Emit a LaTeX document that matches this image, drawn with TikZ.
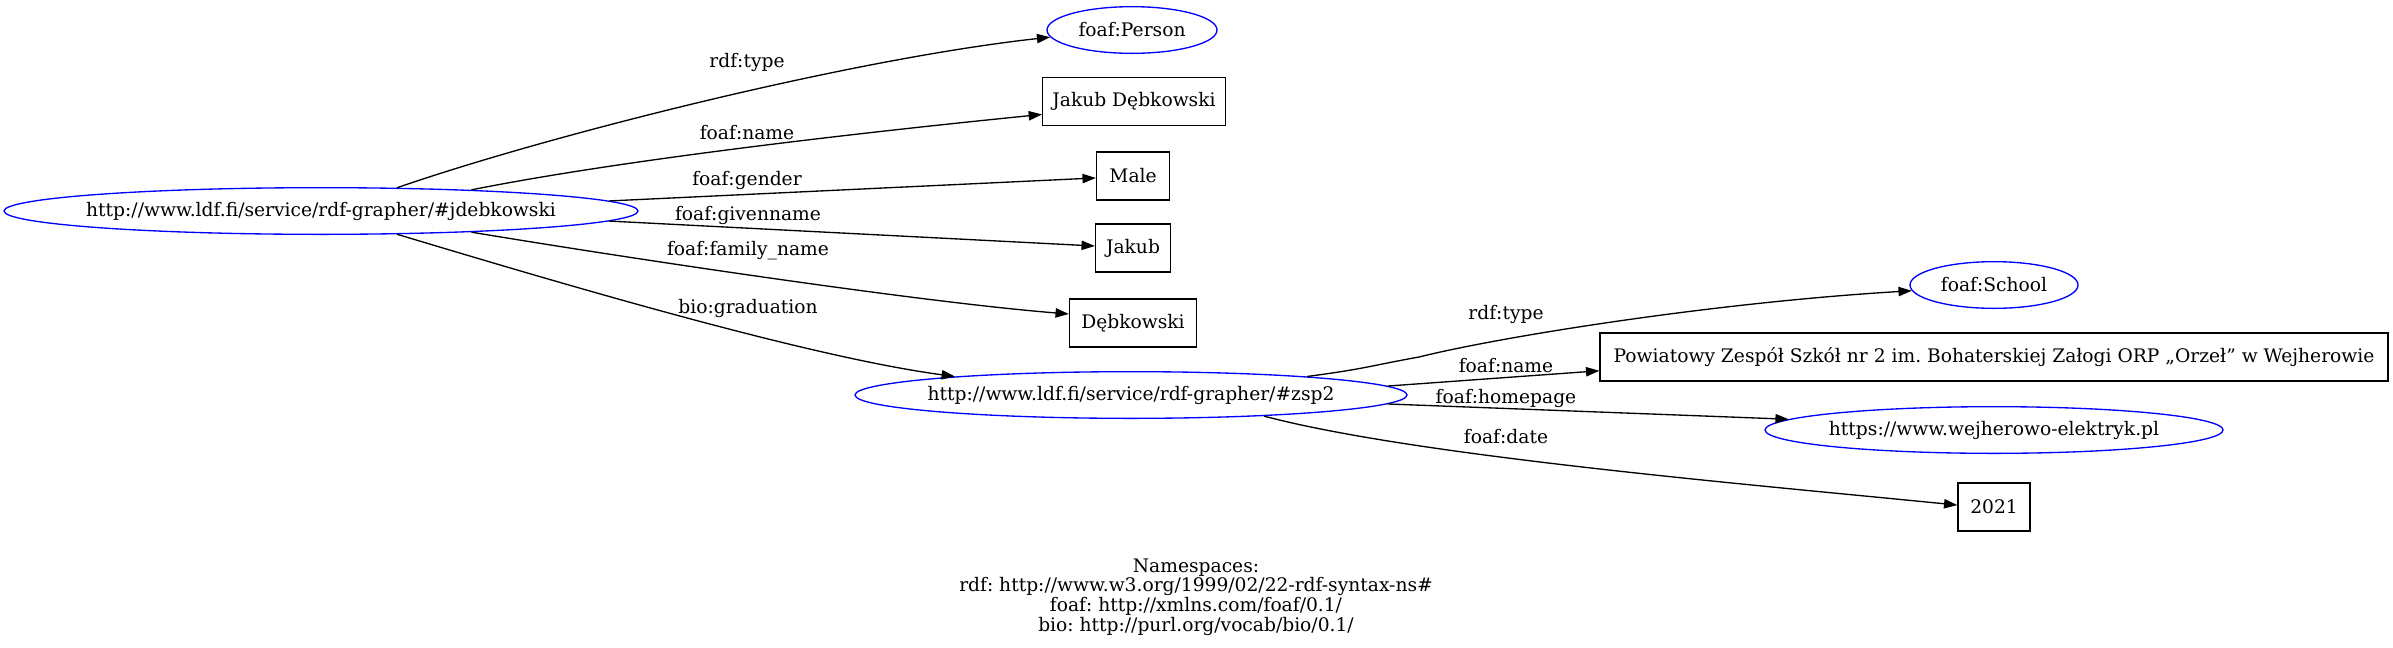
\documentclass[tikz,border=0pt]{standalone}
\usepackage{fontspec}
\setmainfont{DejaVu Serif}
\usetikzlibrary{shapes.geometric,arrows.meta}
\frenchspacing
\begin{document}
\begin{tikzpicture}[x=0.75pt,y=-0.75pt,
  every node/.style={font=\fontsize{14}{14.8}\selectfont},
  uri/.style={ellipse,draw=blue,line width=1pt,inner sep=0pt,minimum height=35pt},
  lit/.style={rectangle,draw=black,line width=1pt,inner sep=0pt,minimum height=36pt},
  edge/.style={draw=black,line width=1pt,-{Triangle[length=10pt,width=7pt]}},
  lbl/.style={inner sep=0pt}]
\useasboundingbox (0,0) rectangle (2393,647);
% nodes
\node[uri,minimum width=475.5pt] (A) at (321,211) {\makebox[0pt]{http://www.ldf.fi/service/rdf-grapher/\#jdebkowski}};
\node[uri,minimum width=127.5pt] (P) at (1132,30) {\makebox[0pt]{foaf:Person}};
\node[lit,minimum width=137pt] (JD) at (1134,101.5) {\makebox[0pt]{Jakub Dębkowski}};
\node[lit,minimum width=54.75pt] (M) at (1133,176) {\makebox[0pt]{Male}};
\node[lit,minimum width=56.25pt] (J) at (1133,248) {\makebox[0pt]{Jakub}};
\node[lit,minimum width=95.25pt] (D) at (1133,323) {\makebox[0pt]{Dębkowski}};
\node[uri,minimum width=414pt] (Z) at (1131,395) {\makebox[0pt]{http://www.ldf.fi/service/rdf-grapher/\#zsp2}};
\node[uri,minimum width=126pt] (S) at (1994,285) {\makebox[0pt]{foaf:School}};
\node[lit,minimum width=591pt] (PZ) at (1994,357) {\makebox[0pt]{Powiatowy Zespół Szkół nr 2 im. Bohaterskiej Załogi ORP „Orzeł” w Wejherowie}};
\node[uri,minimum width=343.5pt] (W) at (1994,430) {\makebox[0pt]{https://www.wejherowo-elektryk.pl}};
\node[lit,minimum width=54pt] (Y) at (1994,507) {\makebox[0pt]{2021}};
\coordinate (k1) at (1419,357);
% edges
\draw[edge] (A.17) .. controls +(150,-52) and +(-200,22) .. (P.185);
\draw[edge] (A.8) .. controls +(150,-30) and +(-180,18) .. (JD.188);
\draw[edge] (A.2.3) -- (M.183);
\draw[edge] (A.-2.3) -- (J.177);
\draw[edge] (A.-8) .. controls +(150,25) and +(-150,-12) .. (D.172);
\draw[edge] (A.-17) .. controls +(150,45) and +(-150,-20) .. (Z.174);
\draw[edge] (Z.6) .. controls +(60,-8) and +(-50,9) .. (k1) .. controls +(80,-20) and +(-200,12) .. (S.184);
\draw[edge] (Z.2.2) -- (PZ.182.9);
\draw[edge] (Z.-2.2) -- (W.177.6);
\draw[edge] (Z.-9.3) .. controls +(150,40) and +(-200,-20) .. (Y.177);
% edge labels
\node[lbl] (l1) at (747,62) {rdf:type};
\node[lbl] (l2) at (747,133) {foaf:name};
\node[lbl] (l3) at (747,180) {foaf:gender};
\node[lbl] (l4) at (748,215) {foaf:givenname};
\node[lbl] (l5) at (748,251) {foaf:family\_name};
\node[lbl] (l6) at (748,308) {bio:graduation};
\node[lbl] (l7) at (1506,314) {rdf:type};
\node[lbl] (l8) at (1506,366) {foaf:name};
\node[lbl] (l9) at (1506,398) {foaf:homepage};
\node[lbl] (l10) at (1506,437) {foaf:date};
% namespaces
\node[align=center,inner sep=0pt] (ns) at (1196,597) {Namespaces:\\rdf: http://www.w3.org/1999/02/22-rdf-syntax-ns\#\\foaf: http://xmlns.com/foaf/0.1/\\bio: http://purl.org/vocab/bio/0.1/};
\end{tikzpicture}
\end{document}
